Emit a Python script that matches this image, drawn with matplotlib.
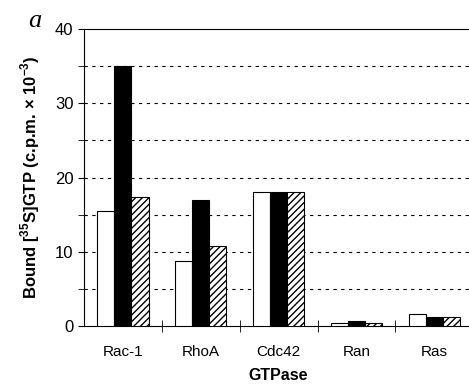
import numpy as np
import matplotlib.pyplot as plt

gtpases = ['Rac-1', 'RhoA', 'Cdc42', 'Ran', 'Ras']
white_vals = [15.5, 8.7, 18.0, 0.4, 1.6]
black_vals = [35.0, 17.0, 18.0, 0.6, 1.2]
hatch_vals = [17.4, 10.8, 18.0, 0.4, 1.2]

plt.rcParams['font.family'] = ['Liberation Sans', 'DejaVu Sans']
plt.rcParams['mathtext.fontset'] = 'custom'
plt.rcParams['mathtext.rm'] = 'Liberation Sans:bold'
plt.rcParams['mathtext.bf'] = 'Liberation Sans:bold'
plt.rcParams['hatch.linewidth'] = 1.0

fig = plt.figure(figsize=(4.69, 3.88), dpi=100)
ax = fig.add_axes([0.179, 0.160, 0.83, 0.765])

x = np.arange(len(gtpases))
w = 0.22
ax.bar(x - w, white_vals, w, color='white', edgecolor='black', linewidth=0.8, zorder=3)
ax.bar(x, black_vals, w, color='black', edgecolor='black', linewidth=0.8, zorder=3)
ax.bar(x + w, hatch_vals, w, color='white', edgecolor='black', hatch='/////', linewidth=0.8, zorder=3)

ax.set_xlim(-0.5, 4.5)
ax.set_ylim(0, 40)
ax.set_yticks([0, 10, 20, 30, 40])
ax.set_yticks([5, 15, 25, 35], minor=True)
for yv in [5, 10, 15, 20, 25, 30, 35]:
    ax.axhline(yv, color='black', linestyle=(0, (3, 4)), linewidth=0.8, zorder=1)

ax.set_xticks(x)
ax.set_xticklabels(gtpases, fontsize=11)
ax.tick_params(axis='x', length=0, pad=14)
ax.set_xticks(np.arange(0.5, 4.5, 1), minor=True)
ax.tick_params(axis='x', which='minor', direction='inout', length=8)
ax.tick_params(axis='y', which='both', direction='out', length=4, labelsize=12)

ax.spines['right'].set_visible(False)
for s in ['left', 'top', 'bottom']:
    ax.spines[s].set_linewidth(0.8)

ax.set_ylabel(r'Bound [$^{35}$S]GTP (c.p.m. $\times$ 10$^{-3}$)', fontsize=12, fontweight='bold', labelpad=9)
ax.set_xlabel('GTPase', fontsize=11.5, fontweight='bold', labelpad=6)

fig.text(0.06, 0.975, 'a', fontsize=19, style='italic', family='Liberation Serif', va='top')

fig.savefig('out.png', dpi=100)
